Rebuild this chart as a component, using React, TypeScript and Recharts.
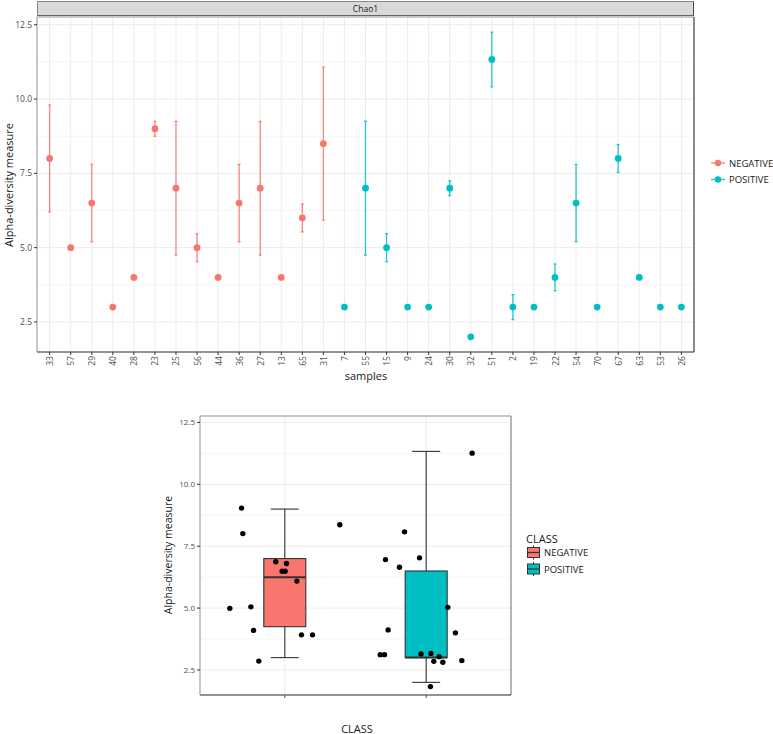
import React from "react";
import {
  ComposedChart,
  Scatter,
  Bar,
  XAxis,
  YAxis,
  CartesianGrid,
  ErrorBar,
  ReferenceLine,
} from "recharts";

const NEG = "#F8766D";
const POS = "#00BFC4";
const FONT = "'Open Sans', 'DejaVu Sans', sans-serif";
const TICK_COLOR = "#4D4D4D";

// samples in plot order (top chart)
const SAMPLES = [
  "33", "57", "29", "40", "28", "23", "25", "56", "44", "36", "27", "13", "65", "31",
  "7", "55", "15", "9", "24", "30", "32", "51", "2", "19", "22", "54", "70", "67", "63", "53", "26",
];
const SAMPLE_CLASS = [
  "NEGATIVE", "NEGATIVE", "NEGATIVE", "NEGATIVE", "NEGATIVE", "NEGATIVE", "NEGATIVE",
  "NEGATIVE", "NEGATIVE", "NEGATIVE", "NEGATIVE", "NEGATIVE", "NEGATIVE", "NEGATIVE",
  "POSITIVE", "POSITIVE", "POSITIVE", "POSITIVE", "POSITIVE", "POSITIVE", "POSITIVE",
  "POSITIVE", "POSITIVE", "POSITIVE", "POSITIVE", "POSITIVE", "POSITIVE", "POSITIVE",
  "POSITIVE", "POSITIVE", "POSITIVE",
];
const CHAO1 = [
  8, 5, 6.5, 3, 4, 9, 7, 5, 4, 6.5, 7, 4, 6, 8.5,
  3, 7, 5, 3, 3, 7, 2, 11.33, 3, 3, 4, 6.5, 3, 8, 4, 3, 3,
];
const CHAO1_SE = [
  1.8, 0, 1.3, 0, 0, 0.25, 2.25, 0.47, 0, 1.3, 2.25, 0, 0.47, 2.57,
  0, 2.25, 0.47, 0, 0, 0.25, 0, 0.92, 0.42, 0, 0.45, 1.3, 0, 0.47, 0, 0, 0,
];

const CLASSES = ["NEGATIVE", "POSITIVE"];
const Y_TICKS = [2.5, 5, 7.5, 10, 12.5];
const Y_MINOR = [3.75, 6.25, 8.75, 11.25];
const Y_DOMAIN: [number, number] = [1.49, 12.76];

// jittered points of the boxplot (x offset around class index, y value)
const JIT_NEG_X = [-0.306, -0.297, 0.389, -0.064, 0.012, -0.019, 0.002, 0.085, -0.389, -0.24, -0.221, 0.118, 0.196, -0.184];
const JIT_NEG_Y = [9.04, 8.01, 8.37, 6.87, 6.8, 6.49, 6.49, 6.09, 4.99, 5.05, 4.1, 3.92, 3.92, 2.86];
const JIT_POS_X = [-0.288, -0.189, -0.047, -0.269, -0.325, -0.295, -0.037, 0.033, 0.054, 0.092, 0.118, 0.153, 0.03, -0.153, 0.325, 0.207, 0.252];
const JIT_POS_Y = [6.96, 6.65, 7.03, 4.12, 3.12, 3.12, 3.15, 3.17, 2.85, 3.04, 2.81, 5.03, 1.83, 8.08, 11.26, 4.0, 2.88];

const points = SAMPLES.map((s, i) => ({ idx: i, sample: s, chao1: CHAO1[i], se: CHAO1_SE[i], cls: SAMPLE_CLASS[i] }));
const negPoints = points.filter((p) => p.cls === "NEGATIVE");
const posPoints = points.filter((p) => p.cls === "POSITIVE");

function quantile(sorted: number[], q: number) {
  const pos = (sorted.length - 1) * q;
  const lo = Math.floor(pos);
  const hi = Math.ceil(pos);
  return sorted[lo] + (sorted[hi] - sorted[lo]) * (pos - lo);
}

const boxData = CLASSES.map((cls, idx) => {
  const vals = points.filter((p) => p.cls === cls).map((p) => p.chao1).sort((a, b) => a - b);
  const q1 = quantile(vals, 0.25);
  const med = quantile(vals, 0.5);
  const q3 = quantile(vals, 0.75);
  const iqr = q3 - q1;
  const lo = Math.min(...vals.filter((v) => v >= q1 - 1.5 * iqr));
  const hi = Math.max(...vals.filter((v) => v <= q3 + 1.5 * iqr));
  return { idx, cls, q1, med, q3, range: [lo, hi] };
});

const jitNeg = JIT_NEG_X.map((dx, i) => ({ idx: 0 + dx, y: JIT_NEG_Y[i] }));
const jitPos = JIT_POS_X.map((dx, i) => ({ idx: 1 + dx, y: JIT_POS_Y[i] }));

const BOX_W = 42;
const CAP_W = 28;

const dot = (color: string, r: number) => (props: any) =>
  props.cx == null ? <g /> : <circle cx={props.cx} cy={props.cy} r={r} fill={color} />;

const SampleTick = (props: any) => {
  const { x, y, payload } = props;
  return (
    <text
      x={x}
      y={y}
      transform={`rotate(-90 ${x} ${y})`}
      textAnchor="end"
      dominantBaseline="central"
      fontSize={8.5}
      fontFamily={FONT}
      fill={TICK_COLOR}
    >
      {SAMPLES[payload.value]}
    </text>
  );
};

// box drawn inside the whisker range bar the library positions
const BoxShape = (props: any) => {
  const { x, y, width, height, payload } = props;
  if (x == null || payload == null) return <g />;
  const top = Math.min(y, y + height);
  const bot = Math.max(y, y + height);
  const [lo, hi] = payload.range;
  const py = (v: number) => top + ((bot - top) * (hi - v)) / (hi - lo);
  const cx = x + width / 2;
  const bx = cx - BOX_W / 2;
  const fill = payload.cls === "NEGATIVE" ? NEG : POS;
  return (
    <g>
      <line x1={cx} x2={cx} y1={top} y2={bot} stroke="#333" strokeWidth={1.1} />
      <line x1={cx - CAP_W / 2} x2={cx + CAP_W / 2} y1={top} y2={top} stroke="#333" strokeWidth={1.1} />
      <line x1={cx - CAP_W / 2} x2={cx + CAP_W / 2} y1={bot} y2={bot} stroke="#333" strokeWidth={1.1} />
      <rect x={bx} y={py(payload.q3)} width={BOX_W} height={py(payload.q1) - py(payload.q3)} fill={fill} stroke="#333" strokeWidth={1.1} />
      <line x1={bx} x2={bx + BOX_W} y1={py(payload.med)} y2={py(payload.med)} stroke="#333" strokeWidth={2} />
    </g>
  );
};

const tickStyle = { fontSize: 8.5, fill: TICK_COLOR, fontFamily: FONT };

export default function App() {
  return (
    <div style={{ position: "absolute", left: 0, top: 0, width: 773, height: 734, background: "#fff", fontFamily: FONT }}>
      {/* top: Chao1 per sample */}
      <div style={{ position: "absolute", left: 0, top: 0 }}>
        <ComposedChart width={773} height={385} margin={{ top: 17, right: 79, bottom: 0, left: 0 }}>
          <CartesianGrid vertical={false} horizontalValues={Y_MINOR} stroke="#F3F3F3" strokeWidth={0.8} />
          <CartesianGrid stroke="#EBEBEB" strokeWidth={1} />
          <ReferenceLine y={Y_DOMAIN[1]} stroke="#9A9A9A" strokeWidth={1} />
          <ReferenceLine x={30.6} stroke="#444" strokeWidth={1.2} />
          <XAxis
            type="number"
            dataKey="idx"
            domain={[-0.6, 30.6]}
            ticks={SAMPLES.map((_, i) => i)}
            interval={0}
            allowDataOverflow
            tickSize={3}
            tickMargin={1}
            height={33}
            axisLine={{ stroke: "#333", strokeWidth: 1.2 }}
            tickLine={{ stroke: "#333" }}
            tick={<SampleTick />}
          />
          <YAxis
            type="number"
            domain={Y_DOMAIN}
            ticks={Y_TICKS}
            allowDataOverflow
            width={37}
            tickSize={3}
            tickMargin={2}
            tickFormatter={(v: number) => v.toFixed(1)}
            tick={tickStyle}
            axisLine={{ stroke: "#9A9A9A" }}
            tickLine={{ stroke: "#333" }}
          />
          <Scatter name="NEGATIVE" data={negPoints} dataKey="chao1" fill={NEG} isAnimationActive={false} shape={dot(NEG, 3.4)}>
            <ErrorBar dataKey="se" direction="y" width={1.5} stroke={NEG} strokeWidth={1.3} strokeOpacity={0.85} />
          </Scatter>
          <Scatter name="POSITIVE" data={posPoints} dataKey="chao1" fill={POS} isAnimationActive={false} shape={dot(POS, 3.4)}>
            <ErrorBar dataKey="se" direction="y" width={1.5} stroke={POS} strokeWidth={1.3} strokeOpacity={0.85} />
          </Scatter>
        </ComposedChart>
      </div>

      {/* facet strip */}
      <div
        style={{
          position: "absolute",
          left: 37,
          top: 1,
          width: 657,
          height: 15,
          boxSizing: "border-box",
          background: "#D9D9D9",
          borderTop: "1px solid #888",
          borderLeft: "1px solid #888",
          borderRight: "1px solid #444",
          borderBottom: "1px solid #666",
          fontSize: 8.5,
          color: "#1A1A1A",
          lineHeight: "13px",
          textAlign: "center",
        }}
      >
        Chao1
      </div>

      {/* bottom: boxplot by CLASS */}
      <div style={{ position: "absolute", left: 0, top: 385 }}>
        <ComposedChart width={773} height={349} data={boxData} margin={{ top: 31, right: 262, bottom: 0, left: 160 }}>
          <CartesianGrid vertical={false} horizontalValues={Y_MINOR} stroke="#F3F3F3" strokeWidth={0.8} />
          <CartesianGrid stroke="#EBEBEB" strokeWidth={1} />
          <ReferenceLine y={Y_DOMAIN[1]} stroke="#9A9A9A" strokeWidth={1} />
          <ReferenceLine x={1.6} stroke="#777" strokeWidth={1} />
          <XAxis
            type="number"
            dataKey="idx"
            domain={[-0.6, 1.6]}
            ticks={[0, 1]}
            allowDataOverflow
            tickSize={3}
            height={39}
            tickFormatter={() => ""}
            axisLine={{ stroke: "#333", strokeWidth: 1.2 }}
            tickLine={{ stroke: "#555" }}
          />
          <YAxis
            type="number"
            domain={Y_DOMAIN}
            ticks={Y_TICKS}
            allowDataOverflow
            width={40}
            tickSize={3}
            tickMargin={2}
            tickFormatter={(v: number) => v.toFixed(1)}
            tick={{ ...tickStyle, fontSize: 8 }}
            axisLine={{ stroke: "#9A9A9A" }}
            tickLine={{ stroke: "#333" }}
          />
          <Bar dataKey="range" barSize={BOX_W} isAnimationActive={false} shape={<BoxShape />} />
          <Scatter data={jitNeg} dataKey="y" fill="#000" isAnimationActive={false} shape={dot("#000", 2.7)} />
          <Scatter data={jitPos} dataKey="y" fill="#000" isAnimationActive={false} shape={dot("#000", 2.7)} />
        </ComposedChart>
      </div>

      {/* titles and legends */}
      <svg width={773} height={734} style={{ position: "absolute", left: 0, top: 0, pointerEvents: "none" }}>
        <g fontFamily={FONT} fill="#1A1A1A">
          <text x={8} y={185} transform="rotate(-90 8 185)" textAnchor="middle" dominantBaseline="central" fontSize={11}>
            Alpha-diversity measure
          </text>
          <text x={366} y={375} textAnchor="middle" dominantBaseline="central" fontSize={11}>
            samples
          </text>
          <text x={168} y={555} transform="rotate(-90 168 555)" textAnchor="middle" dominantBaseline="central" fontSize={10.5}>
            Alpha-diversity measure
          </text>
          <text x={357} y={728} textAnchor="middle" dominantBaseline="central" fontSize={11}>
            CLASS
          </text>

          {CLASSES.map((cls, i) => {
            const c = cls === "NEGATIVE" ? NEG : POS;
            const cy = 163 + i * 16.5;
            return (
              <g key={cls}>
                <line x1={711} x2={725} y1={cy} y2={cy} stroke={c} strokeWidth={1.5} opacity={0.8} />
                <circle cx={718} cy={cy} r={3.2} fill={c} />
                <text x={729} y={cy} dominantBaseline="central" fontSize={9.5}>
                  {cls}
                </text>
              </g>
            );
          })}

          <text x={526} y={538} dominantBaseline="central" fontSize={11}>
            CLASS
          </text>
          {CLASSES.map((cls, i) => {
            const c = cls === "NEGATIVE" ? NEG : POS;
            const cy = 552.5 + i * 16.5;
            return (
              <g key={cls}>
                <line x1={533.5} x2={533.5} y1={cy - 7} y2={cy + 7} stroke="#333" strokeWidth={1} />
                <rect x={527.5} y={cy - 5} width={12} height={10} fill={c} stroke="#333" strokeWidth={1} />
                <line x1={527.5} x2={539.5} y1={cy} y2={cy} stroke="#333" strokeWidth={1.3} />
                <text x={544} y={cy} dominantBaseline="central" fontSize={9.5}>
                  {cls}
                </text>
              </g>
            );
          })}
        </g>
      </svg>
    </div>
  );
}
